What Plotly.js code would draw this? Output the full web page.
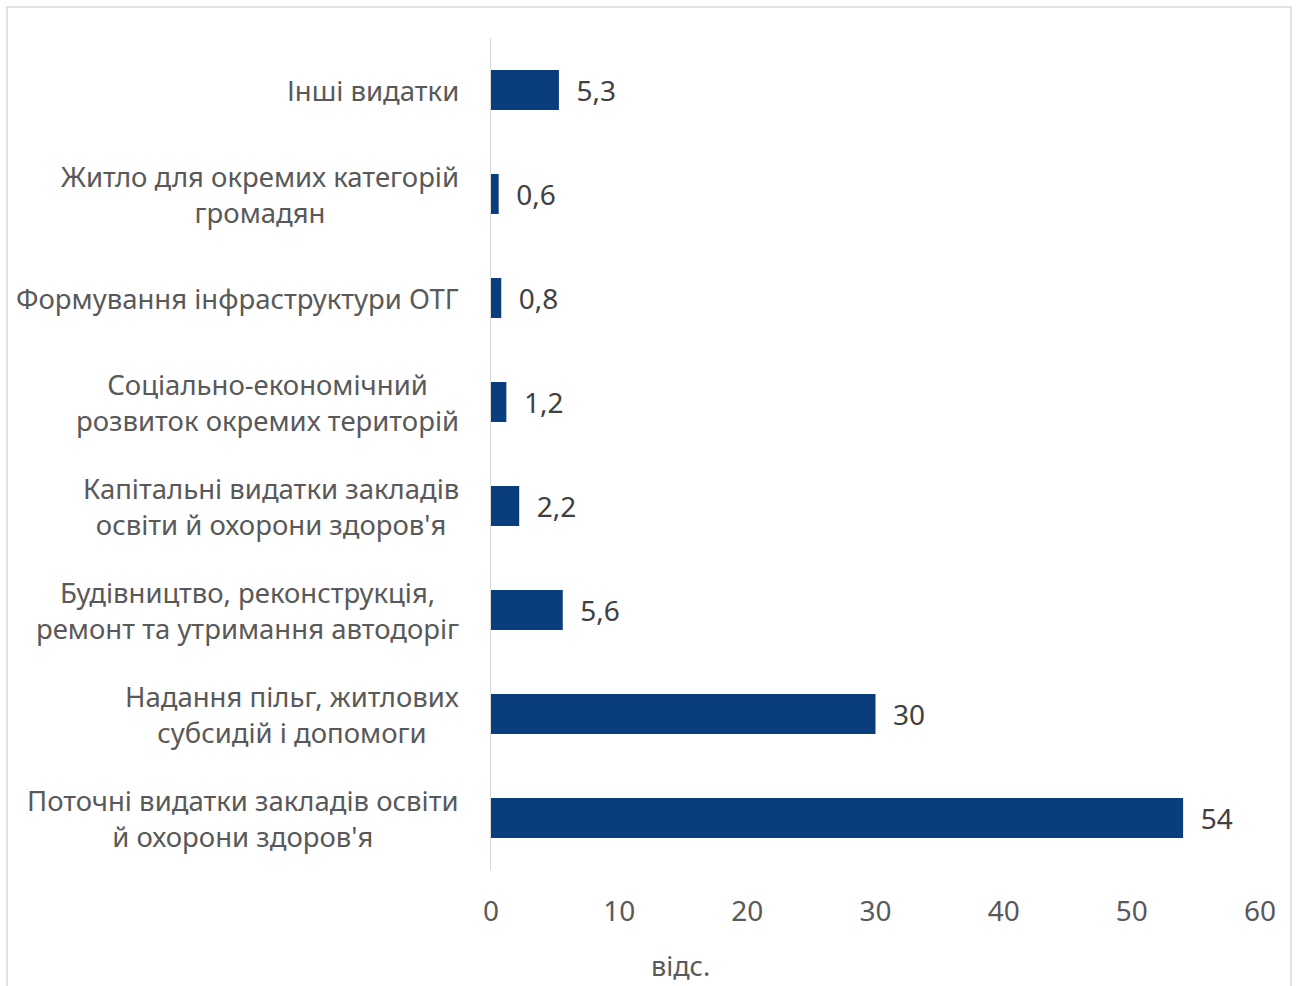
<!DOCTYPE html>
<html>
<head>
<meta charset="utf-8">
<script src="https://cdn.plot.ly/plotly-3.0.1.min.js"></script>
<style>html,body{margin:0;padding:0;background:#fff;}#chart{width:1298px;height:986px;}</style>
</head>
<body>
<div id="chart"></div>
<script>
const categories = [
  "Поточні видатки закладів освіти<br>й охорони здоров'я",
  "Надання пільг, житлових<br>субсидій і допомоги",
  "Будівництво, реконструкція,<br>ремонт та утримання автодоріг",
  "Капітальні видатки закладів<br>освіти й охорони здоров'я",
  "Соціально-економічний<br>розвиток окремих територій",
  "Формування інфраструктури ОТГ",
  "Житло для окремих категорій<br>громадян",
  "Інші видатки"
];
const values = [54, 30, 5.6, 2.2, 1.2, 0.8, 0.6, 5.3];
const valueLabels = ["54", "30", "5,6", "2,2", "1,2", "0,8", "0,6", "5,3"];
const xTicks = [0, 10, 20, 30, 40, 50, 60];
const xAxisTitle = "відс.";

const FONT = "Noto Sans, Open Sans, sans-serif";
const PAD = "\u00a0\u00a0";

const trace = {
  type: "bar",
  orientation: "h",
  y: categories,
  x: values,
  text: valueLabels.map(t => PAD + t),
  textposition: "outside",
  cliponaxis: false,
  textfont: {family: FONT, size: 28, color: "#404040"},
  marker: {color: "#0A3D7B"},
  hoverinfo: "none"
};

// category labels drawn as centred multi-line annotations, anchored at each category on the y axis
const catAnnotations = categories.map(c => ({
  text: c,
  xref: "paper", yref: "y",
  x: -30 / 769, y: c,
  xanchor: "right", yanchor: "middle",
  align: "center",
  showarrow: false,
  font: {family: FONT, size: 27.5, color: "#595959"}
}));

const layout = {
  width: 1298,
  height: 986,
  margin: {l: 491, r: 38, t: 38, b: 116},
  paper_bgcolor: "#ffffff",
  plot_bgcolor: "#ffffff",
  showlegend: false,
  bargap: 0.615,
  font: {family: FONT, color: "#595959"},
  xaxis: {
    range: [0, 60],
    tickvals: xTicks,
    showgrid: false,
    zeroline: false,
    showline: false,
    ticks: "",
    ticklabelstandoff: 22,
    tickfont: {family: FONT, size: 28, color: "#595959"},
    fixedrange: true
  },
  yaxis: {
    type: "category",
    categoryarray: categories,
    showgrid: false,
    zeroline: false,
    showline: true,
    linecolor: "#D9D9D9",
    linewidth: 1.5,
    ticks: "",
    showticklabels: false,
    fixedrange: true
  },
  annotations: catAnnotations.concat([{
    text: xAxisTitle,
    xref: "paper", yref: "paper",
    x: (680 - 491) / 769, y: -(965 - 870) / 832,
    xanchor: "center", yanchor: "middle",
    showarrow: false,
    font: {family: FONT, size: 27, color: "#595959"}
  }]),
  shapes: [{
    type: "rect",
    xref: "paper", yref: "paper",
    x0: (7 - 491) / 769, x1: (1291 - 491) / 769,
    y0: -(990 - 870) / 832, y1: (870 - 7) / 832,
    line: {color: "#D9D9D9", width: 1.5},
    fillcolor: "rgba(0,0,0,0)",
    layer: "below"
  }]
};

Plotly.newPlot("chart", [trace], layout, {displayModeBar: false, staticPlot: true});
</script>
</body>
</html>
